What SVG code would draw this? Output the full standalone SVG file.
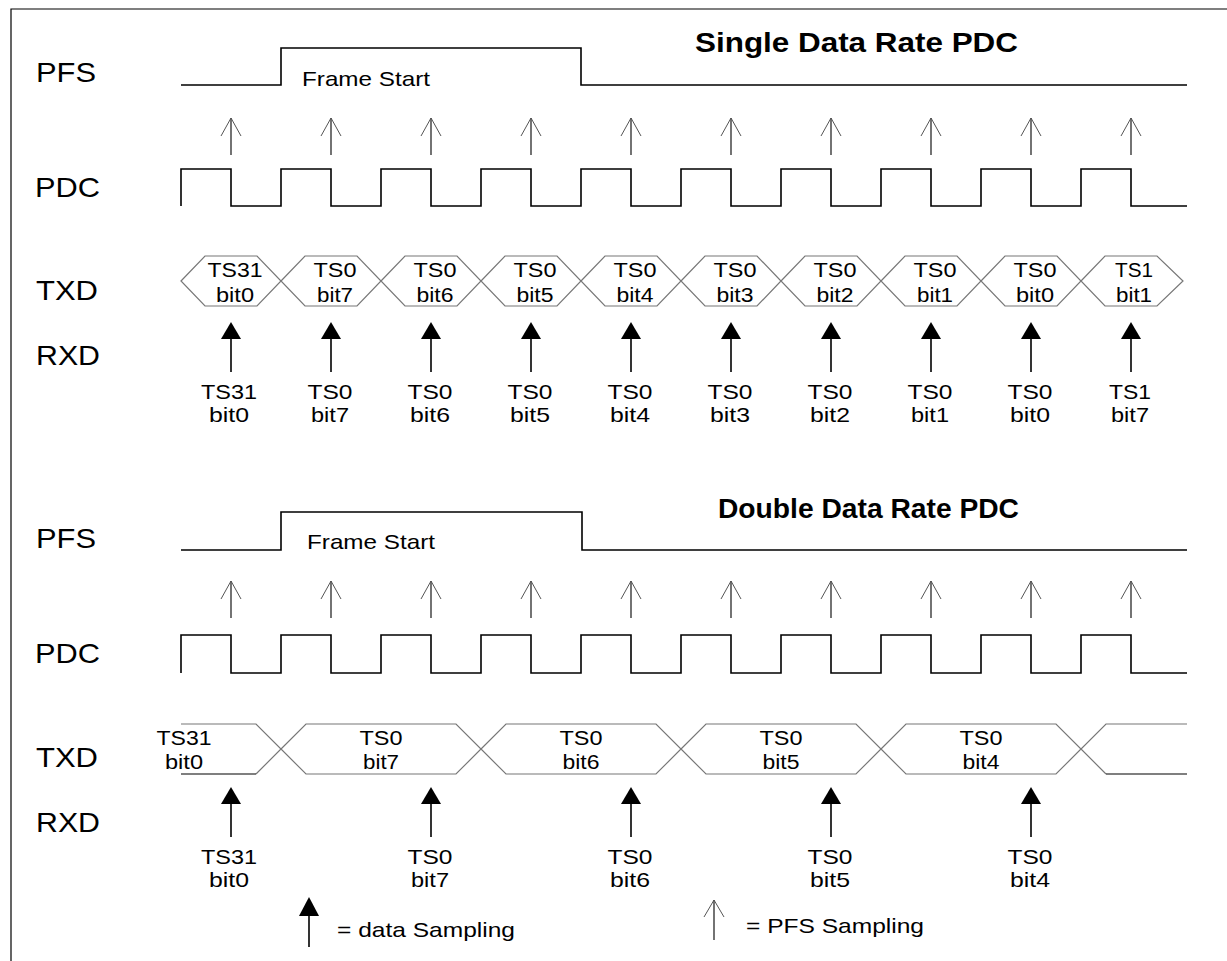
<svg xmlns="http://www.w3.org/2000/svg" width="1227" height="961" viewBox="0 0 1227 961">
<style>
text{font-family:"Liberation Sans",Arial,sans-serif;fill:#000}
.lbl{font-size:28px}
.title{font-size:27px;font-weight:bold}
.fs{font-size:21px}
.hx{font-size:20px;text-anchor:middle}
.rx{font-size:21px;text-anchor:middle}
.leg{font-size:21px}
.sig{fill:none;stroke:#000;stroke-width:1.6}
.hex{fill:none;stroke:#777;stroke-width:1.2}
.open{fill:none;stroke:#000;stroke-width:1.1}
.openh{fill:none;stroke:#555;stroke-width:1}
.dl{stroke:#000;stroke-width:1.6}
</style>
<defs>
<g id="oa"><line class="open" x1="0" y1="0" x2="0" y2="37"/><polyline class="openh" points="-10,18 0,0 10,18"/></g>
<g id="fa"><polygon points="0,0 -10,17 10,17" fill="#000"/><line class="dl" x1="0" y1="17" x2="0" y2="50"/></g>
</defs>
<path id="frame" d="M11,961 V9 H1227" fill="none" stroke="#000" stroke-width="1.2"/>

<g id="single">
<g id="labels1">
<text class="lbl" x="36" y="82" textLength="60" lengthAdjust="spacingAndGlyphs">PFS</text>
<text class="lbl" x="35" y="197" textLength="65" lengthAdjust="spacingAndGlyphs">PDC</text>
<text class="lbl" x="36" y="300" textLength="62" lengthAdjust="spacingAndGlyphs">TXD</text>
<text class="lbl" x="36" y="365" textLength="64" lengthAdjust="spacingAndGlyphs">RXD</text>
<text class="title" x="695" y="52" textLength="323" lengthAdjust="spacingAndGlyphs">Single Data Rate PDC</text>
</g>
<g id="pfs1">
<path class="sig" d="M181,85 H281 V48 H581 V85 H1187"/>
<text class="fs" x="302" y="86" textLength="128" lengthAdjust="spacingAndGlyphs">Frame Start</text>
</g>
<g id="pdc1"><path class="sig" d="M181,206 V169 H231 V206 H281 V169 H331 V206 H381 V169 H431 V206 H481 V169 H531 V206 H581 V169 H631 V206 H681 V169 H731 V206 H781 V169 H831 V206 H881 V169 H931 V206 H981 V169 H1031 V206 H1081 V169 H1131 V206 H1187"/></g>
<g id="txd1">
<polygon class="hex" points="181,281 205,256 257,256 281,281 257,306 205,306"/>
<polygon class="hex" points="281,281 305,256 357,256 381,281 357,306 305,306"/>
<polygon class="hex" points="381,281 405,256 457,256 481,281 457,306 405,306"/>
<polygon class="hex" points="481,281 505,256 557,256 581,281 557,306 505,306"/>
<polygon class="hex" points="581,281 605,256 657,256 681,281 657,306 605,306"/>
<polygon class="hex" points="681,281 705,256 757,256 781,281 757,306 705,306"/>
<polygon class="hex" points="781,281 805,256 857,256 881,281 857,306 805,306"/>
<polygon class="hex" points="881,281 905,256 957,256 981,281 957,306 905,306"/>
<polygon class="hex" points="981,281 1005,256 1057,256 1081,281 1057,306 1005,306"/>
<polygon class="hex" points="1081,281 1105,256 1157,256 1183,281 1157,306 1105,306"/>
<text class="hx" x="235" y="277" textLength="55" lengthAdjust="spacingAndGlyphs">TS31</text><text class="hx" x="235" y="302" textLength="38" lengthAdjust="spacingAndGlyphs">bit0</text>
<text class="hx" x="335" y="277" textLength="43" lengthAdjust="spacingAndGlyphs">TS0</text><text class="hx" x="335" y="302" textLength="36" lengthAdjust="spacingAndGlyphs">bit7</text>
<text class="hx" x="435" y="277" textLength="43" lengthAdjust="spacingAndGlyphs">TS0</text><text class="hx" x="435" y="302" textLength="37" lengthAdjust="spacingAndGlyphs">bit6</text>
<text class="hx" x="535" y="277" textLength="43" lengthAdjust="spacingAndGlyphs">TS0</text><text class="hx" x="535" y="302" textLength="37" lengthAdjust="spacingAndGlyphs">bit5</text>
<text class="hx" x="635" y="277" textLength="43" lengthAdjust="spacingAndGlyphs">TS0</text><text class="hx" x="635" y="302" textLength="37" lengthAdjust="spacingAndGlyphs">bit4</text>
<text class="hx" x="735" y="277" textLength="43" lengthAdjust="spacingAndGlyphs">TS0</text><text class="hx" x="735" y="302" textLength="37" lengthAdjust="spacingAndGlyphs">bit3</text>
<text class="hx" x="835" y="277" textLength="43" lengthAdjust="spacingAndGlyphs">TS0</text><text class="hx" x="835" y="302" textLength="37" lengthAdjust="spacingAndGlyphs">bit2</text>
<text class="hx" x="935" y="277" textLength="43" lengthAdjust="spacingAndGlyphs">TS0</text><text class="hx" x="935" y="302" textLength="36" lengthAdjust="spacingAndGlyphs">bit1</text>
<text class="hx" x="1035" y="277" textLength="43" lengthAdjust="spacingAndGlyphs">TS0</text><text class="hx" x="1035" y="302" textLength="38" lengthAdjust="spacingAndGlyphs">bit0</text>
<text class="hx" x="1134" y="277" textLength="38" lengthAdjust="spacingAndGlyphs">TS1</text><text class="hx" x="1134" y="302" textLength="36" lengthAdjust="spacingAndGlyphs">bit1</text>
</g>
<g id="rxd1">
<text class="rx" x="229" y="399" textLength="56" lengthAdjust="spacingAndGlyphs">TS31</text><text class="rx" x="229" y="422" textLength="40" lengthAdjust="spacingAndGlyphs">bit0</text>
<text class="rx" x="330" y="399" textLength="45" lengthAdjust="spacingAndGlyphs">TS0</text><text class="rx" x="330" y="422" textLength="38" lengthAdjust="spacingAndGlyphs">bit7</text>
<text class="rx" x="430" y="399" textLength="45" lengthAdjust="spacingAndGlyphs">TS0</text><text class="rx" x="430" y="422" textLength="40" lengthAdjust="spacingAndGlyphs">bit6</text>
<text class="rx" x="530" y="399" textLength="45" lengthAdjust="spacingAndGlyphs">TS0</text><text class="rx" x="530" y="422" textLength="40" lengthAdjust="spacingAndGlyphs">bit5</text>
<text class="rx" x="630" y="399" textLength="45" lengthAdjust="spacingAndGlyphs">TS0</text><text class="rx" x="630" y="422" textLength="40" lengthAdjust="spacingAndGlyphs">bit4</text>
<text class="rx" x="730" y="399" textLength="45" lengthAdjust="spacingAndGlyphs">TS0</text><text class="rx" x="730" y="422" textLength="40" lengthAdjust="spacingAndGlyphs">bit3</text>
<text class="rx" x="830" y="399" textLength="45" lengthAdjust="spacingAndGlyphs">TS0</text><text class="rx" x="830" y="422" textLength="40" lengthAdjust="spacingAndGlyphs">bit2</text>
<text class="rx" x="930" y="399" textLength="45" lengthAdjust="spacingAndGlyphs">TS0</text><text class="rx" x="930" y="422" textLength="38" lengthAdjust="spacingAndGlyphs">bit1</text>
<text class="rx" x="1030" y="399" textLength="45" lengthAdjust="spacingAndGlyphs">TS0</text><text class="rx" x="1030" y="422" textLength="40" lengthAdjust="spacingAndGlyphs">bit0</text>
<text class="rx" x="1130" y="399" textLength="42" lengthAdjust="spacingAndGlyphs">TS1</text><text class="rx" x="1130" y="422" textLength="38" lengthAdjust="spacingAndGlyphs">bit7</text>
</g>
</g>

<g id="double">
<g id="labels2">
<text class="lbl" x="36" y="548" textLength="60" lengthAdjust="spacingAndGlyphs">PFS</text>
<text class="lbl" x="35" y="663" textLength="65" lengthAdjust="spacingAndGlyphs">PDC</text>
<text class="lbl" x="36" y="767" textLength="62" lengthAdjust="spacingAndGlyphs">TXD</text>
<text class="lbl" x="36" y="832" textLength="64" lengthAdjust="spacingAndGlyphs">RXD</text>
<text class="title" x="718" y="518" textLength="301" lengthAdjust="spacingAndGlyphs">Double Data Rate PDC</text>
</g>
<g id="pfs2">
<path class="sig" d="M181,550 H281 V512 H582 V550 H1187"/>
<text class="fs" x="307" y="549" textLength="128" lengthAdjust="spacingAndGlyphs">Frame Start</text>
</g>
<g id="pdc2"><path class="sig" d="M181,673 V635 H231 V673 H281 V635 H331 V673 H381 V635 H431 V673 H481 V635 H531 V673 H581 V635 H631 V673 H681 V635 H731 V673 H781 V635 H831 V673 H881 V635 H931 V673 H981 V635 H1031 V673 H1081 V635 H1131 V673 H1187"/></g>
<g id="txd2">
<polyline class="hex" points="181,724 256,724 281,749 256,774"/>
<line x1="181" y1="774" x2="256" y2="774" stroke="#000" stroke-width="1.2"/>
<polygon class="hex" points="281,749 306,724 456,724 481,749 456,774 306,774"/>
<polygon class="hex" points="481,749 506,724 656,724 681,749 656,774 506,774"/>
<polygon class="hex" points="681,749 706,724 856,724 881,749 856,774 706,774"/>
<polygon class="hex" points="881,749 906,724 1056,724 1081,749 1056,774 906,774"/>
<polyline class="hex" points="1187,724 1106,724 1081,749 1106,774"/>
<line x1="1106" y1="774" x2="1187" y2="774" stroke="#000" stroke-width="1.2"/>
<text class="hx" x="184" y="745" textLength="55" lengthAdjust="spacingAndGlyphs">TS31</text><text class="hx" x="184" y="769" textLength="38" lengthAdjust="spacingAndGlyphs">bit0</text>
<text class="hx" x="381" y="745" textLength="43" lengthAdjust="spacingAndGlyphs">TS0</text><text class="hx" x="381" y="769" textLength="36" lengthAdjust="spacingAndGlyphs">bit7</text>
<text class="hx" x="581" y="745" textLength="43" lengthAdjust="spacingAndGlyphs">TS0</text><text class="hx" x="581" y="769" textLength="37" lengthAdjust="spacingAndGlyphs">bit6</text>
<text class="hx" x="781" y="745" textLength="43" lengthAdjust="spacingAndGlyphs">TS0</text><text class="hx" x="781" y="769" textLength="37" lengthAdjust="spacingAndGlyphs">bit5</text>
<text class="hx" x="981" y="745" textLength="43" lengthAdjust="spacingAndGlyphs">TS0</text><text class="hx" x="981" y="769" textLength="37" lengthAdjust="spacingAndGlyphs">bit4</text>
</g>
<g id="rxd2">
<text class="rx" x="229" y="864" textLength="56" lengthAdjust="spacingAndGlyphs">TS31</text><text class="rx" x="229" y="887" textLength="40" lengthAdjust="spacingAndGlyphs">bit0</text>
<text class="rx" x="430" y="864" textLength="45" lengthAdjust="spacingAndGlyphs">TS0</text><text class="rx" x="430" y="887" textLength="38" lengthAdjust="spacingAndGlyphs">bit7</text>
<text class="rx" x="630" y="864" textLength="45" lengthAdjust="spacingAndGlyphs">TS0</text><text class="rx" x="630" y="887" textLength="40" lengthAdjust="spacingAndGlyphs">bit6</text>
<text class="rx" x="830" y="864" textLength="45" lengthAdjust="spacingAndGlyphs">TS0</text><text class="rx" x="830" y="887" textLength="40" lengthAdjust="spacingAndGlyphs">bit5</text>
<text class="rx" x="1030" y="864" textLength="45" lengthAdjust="spacingAndGlyphs">TS0</text><text class="rx" x="1030" y="887" textLength="40" lengthAdjust="spacingAndGlyphs">bit4</text>
</g>
</g>

<g id="connectors">
<use href="#oa" x="231" y="118"/><use href="#oa" x="331" y="118"/><use href="#oa" x="431" y="118"/><use href="#oa" x="531" y="118"/><use href="#oa" x="631" y="118"/><use href="#oa" x="731" y="118"/><use href="#oa" x="831" y="118"/><use href="#oa" x="931" y="118"/><use href="#oa" x="1031" y="118"/><use href="#oa" x="1131" y="118"/>
<use href="#fa" x="231" y="322"/><use href="#fa" x="331" y="322"/><use href="#fa" x="431" y="322"/><use href="#fa" x="531" y="322"/><use href="#fa" x="631" y="322"/><use href="#fa" x="731" y="322"/><use href="#fa" x="831" y="322"/><use href="#fa" x="931" y="322"/><use href="#fa" x="1031" y="322"/><use href="#fa" x="1131" y="322"/>
<use href="#oa" x="231" y="581"/><use href="#oa" x="331" y="581"/><use href="#oa" x="431" y="581"/><use href="#oa" x="531" y="581"/><use href="#oa" x="631" y="581"/><use href="#oa" x="731" y="581"/><use href="#oa" x="831" y="581"/><use href="#oa" x="931" y="581"/><use href="#oa" x="1031" y="581"/><use href="#oa" x="1131" y="581"/>
<use href="#fa" x="231" y="787"/><use href="#fa" x="431" y="787"/><use href="#fa" x="631" y="787"/><use href="#fa" x="831" y="787"/><use href="#fa" x="1031" y="787"/>
</g>

<g id="legend">
<polygon points="309,897 299,916 319,916" fill="#000"/>
<line class="dl" x1="309" y1="916" x2="309" y2="947"/>
<text class="leg" x="337" y="937" textLength="178" lengthAdjust="spacingAndGlyphs">= data Sampling</text>
<line class="open" x1="714" y1="900" x2="714" y2="940"/>
<polyline class="openh" points="704,917 714,900 724,917"/>
<text class="leg" x="746" y="933" textLength="178" lengthAdjust="spacingAndGlyphs">= PFS Sampling</text>
</g>
</svg>
